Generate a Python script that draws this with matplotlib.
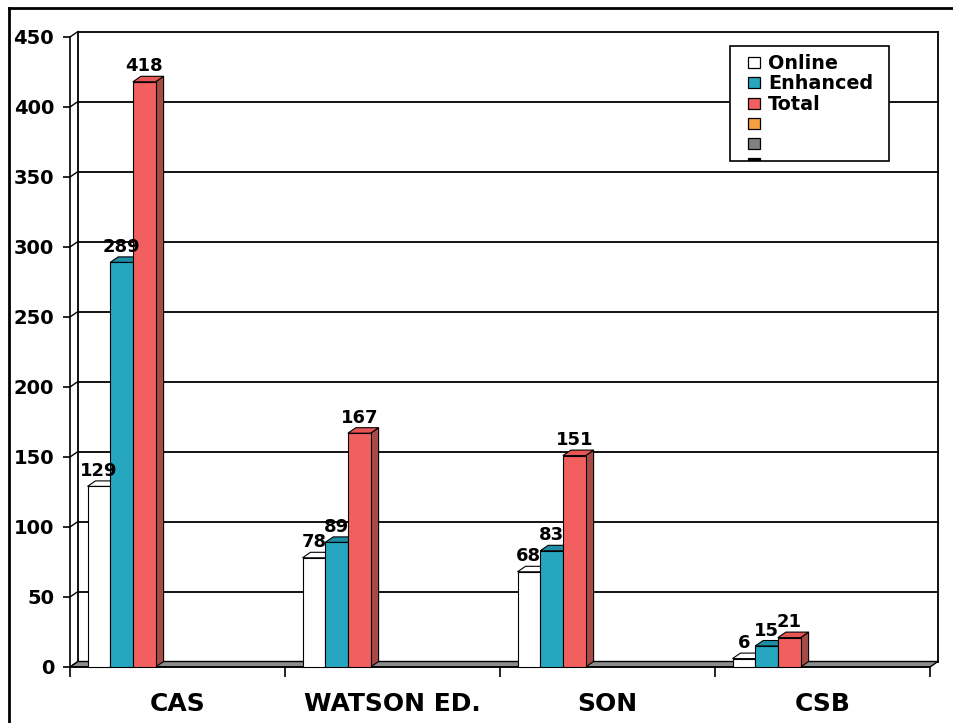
import numpy as np
import matplotlib.pyplot as plt
from matplotlib.patches import Polygon, Rectangle
from matplotlib.lines import Line2D

# data
categories = ['CAS', 'WATSON ED.', 'SON', 'CSB']
series_names = ['Online', 'Enhanced', 'Total']
online = [129, 78, 68, 6]
enhanced = [289, 89, 83, 15]
total = [418, 167, 151, 21]
yticks = list(range(0, 451, 50))

# colours: front, top, side
front_cols = ['#ffffff', '#27a6c0', '#f25f5f']
top_cols = ['#ffffff', '#1e8ea6', '#e85555']
side_cols = ['#ffffff', '#17707f', '#a64a46']
# empty series that only show in the legend
extra_cols = ['#f5a040', '#808080', '#000000']

plt.rcParams['font.family'] = ['DejaVu Sans']
plt.rcParams['font.weight'] = 'bold'

W, H = 954, 723
fig = plt.figure(figsize=(W / 100, H / 100), dpi=100)
ax = fig.add_axes([70 / W, (H - 667) / H, 860 / W, 630 / H])
ax.set_xlim(-0.5, 3.5)
ax.set_ylim(0, 450)
ax.set_facecolor('none')

# 3d depth in data units (about 8 px across, 5.5 px up)
dx = 8 / 215
dy = 5.5 / 1.4

# back wall grid + left wall diagonals
for v in yticks:
    ax.plot([-0.5 + dx, 3.5 + dx], [v + dy, v + dy], color='black', lw=1.3, clip_on=False, zorder=1)
    ax.plot([-0.5, -0.5 + dx], [v, v + dy], color='black', lw=1.0, clip_on=False, zorder=1)
for xe in [-0.5 + dx, 3.5 + dx]:
    ax.plot([xe, xe], [dy, 450 + dy], color='black', lw=1.3, clip_on=False, zorder=1)

# floor
floor = Polygon([(-0.5, 0), (3.5, 0), (3.5 + dx, dy), (-0.5 + dx, dy)],
                closed=True, facecolor='#8c8c8c', edgecolor='black', lw=1.0,
                clip_on=False, zorder=2)
ax.add_patch(floor)

# bars
w = 22.7 / 215
first = -0.5 + 17.5 / 215
x = np.arange(len(categories))
for i, vals in enumerate([online, enhanced, total]):
    for c, v in zip(x, vals):
        x0 = c + first + i * w
        side = Polygon([(x0 + w, 0), (x0 + w + dx, dy), (x0 + w + dx, v + dy), (x0 + w, v)],
                       closed=True, facecolor=side_cols[i], edgecolor='black', lw=0.8,
                       clip_on=False, zorder=3 + i)
        top = Polygon([(x0, v), (x0 + w, v), (x0 + w + dx, v + dy), (x0 + dx, v + dy)],
                      closed=True, facecolor=top_cols[i], edgecolor='black', lw=0.8,
                      clip_on=False, zorder=3 + i)
        front = Rectangle((x0, 0), w, v, facecolor=front_cols[i], edgecolor='black',
                          lw=0.8, clip_on=False, zorder=3 + i)
        ax.add_patch(side)
        ax.add_patch(top)
        ax.add_patch(front)
        ax.annotate(str(v), (x0 + w / 2, v + dy), xytext=(0, 5), textcoords='offset pixels',
                    ha='center', va='baseline', fontsize=13, fontweight='bold', zorder=10)

# axes, ticks
for s in ['top', 'right']:
    ax.spines[s].set_visible(False)
ax.spines['left'].set_linewidth(1.2)
ax.spines['bottom'].set_linewidth(1.2)
ax.spines['bottom'].set_zorder(2.5)
ax.set_yticks(yticks)
ax.tick_params(axis='y', direction='out', length=5, width=1.2, pad=6.5, labelsize=14)
ax.set_xticks(np.arange(-0.5, 3.6, 1.0))
ax.set_xticklabels([])
ax.tick_params(axis='x', which='major', direction='out', length=7.5, width=1.2)
ax.set_xticks(x, minor=True)
ax.set_xticklabels(categories, minor=True, fontsize=18, fontweight='bold')
ax.tick_params(axis='x', which='minor', length=0, pad=18)

# legend drawn by hand so the last row gets cut off by the box
tf = fig.transFigure
def fx(px):
    return px / W
def fy(py):
    return 1 - py / H

box = Rectangle((fx(730), fy(161)), fx(889) - fx(730), fy(46) - fy(161),
                transform=tf, facecolor='white', edgecolor='black', lw=1.2, zorder=20)
fig.patches.append(box)
leg_cols = front_cols + extra_cols
leg_names = series_names + ['', '', '']
for k, (col, name) in enumerate(zip(leg_cols, leg_names)):
    yc = 62.5 + k * 20.3
    sq = Rectangle((fx(748), fy(yc + 5.5)), fx(760) - fx(748), fy(yc - 5.5) - fy(yc + 5.5),
                   transform=tf, facecolor=col, edgecolor='black', lw=0.9, zorder=21)
    sq.set_clip_path(box)
    fig.patches.append(sq)
    if name:
        fig.text(fx(768), fy(yc + 1), name, fontsize=13.8, fontweight='bold',
                 ha='left', va='center', zorder=22)

# outer frame
fig.add_artist(Line2D([fx(9), fx(9)], [fy(8), 0], transform=tf, color='black', lw=2))
fig.add_artist(Line2D([fx(9), 1], [fy(8), fy(8)], transform=tf, color='black', lw=2))

fig.savefig('out.png', dpi=100, facecolor='white')
